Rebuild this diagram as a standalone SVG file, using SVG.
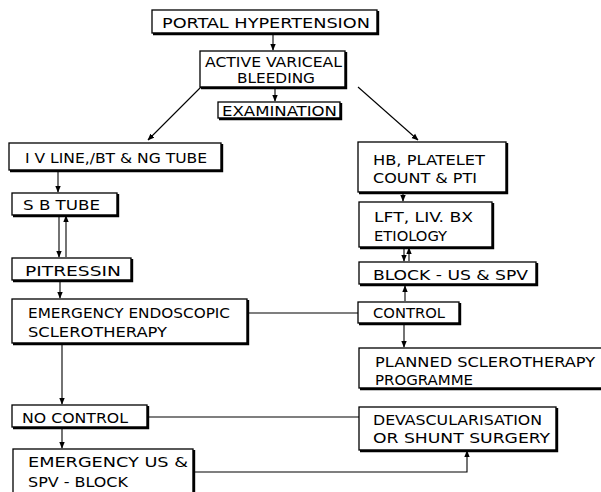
<svg xmlns="http://www.w3.org/2000/svg" width="601" height="492" viewBox="0 0 601 492">
<defs>
<marker id="ah" viewBox="0 0 10 10" refX="9" refY="5" markerWidth="7" markerHeight="7" orient="auto-start-reverse" markerUnits="userSpaceOnUse">
<path d="M0,1 L10,5 L0,9 Z" fill="#000"/>
</marker>
<style>
.b{fill:#fff;stroke:#000;stroke-width:1.3}
.s{fill:none;stroke:#000;stroke-width:2.4}
.t{font-family:"DejaVu Sans Condensed","Liberation Sans Narrow","Liberation Sans",sans-serif;font-size:14.5px;fill:#000}
.c{fill:none;stroke:#000;stroke-width:1.1}
</style>
</defs>
<rect width="601" height="492" fill="#fff"/>
<g id="connectors">
<line class="c" x1="273" y1="33" x2="273" y2="50" marker-end="url(#ah)"/>
<line class="c" x1="275" y1="87" x2="275" y2="101" marker-end="url(#ah)"/>
<line class="c" x1="201" y1="87" x2="148" y2="140" marker-end="url(#ah)"/>
<line class="c" x1="358" y1="87" x2="418" y2="140" marker-end="url(#ah)"/>
<line class="c" x1="58" y1="170" x2="58" y2="192" marker-end="url(#ah)"/>
<line class="c" x1="59" y1="216" x2="59" y2="257" marker-end="url(#ah)"/>
<line class="c" x1="66" y1="257" x2="66" y2="216" marker-end="url(#ah)"/>
<line class="c" x1="60" y1="281" x2="60" y2="298" marker-end="url(#ah)"/>
<line class="c" x1="403" y1="192" x2="403" y2="201" marker-end="url(#ah)"/>
<line class="c" x1="404" y1="247" x2="404" y2="261" marker-end="url(#ah)"/>
<line class="c" x1="409" y1="261" x2="409" y2="248" marker-end="url(#ah)"/>
<line class="c" x1="405" y1="301" x2="405" y2="286" marker-end="url(#ah)"/>
<line class="c" x1="404" y1="324" x2="404" y2="347" marker-end="url(#ah)"/>
<line class="c" x1="248" y1="313" x2="358" y2="313"/>
<line class="c" x1="62" y1="344" x2="62" y2="404" marker-end="url(#ah)"/>
<line class="c" x1="148" y1="417" x2="359" y2="417"/>
<line class="c" x1="62" y1="428" x2="62" y2="448" marker-end="url(#ah)"/>
<polyline class="c" points="194,472 467,472 467,451" marker-end="url(#ah)"/>
</g>
<g id="portal-hypertension">
<rect class="b" x="152" y="10" width="225" height="23"/>
<polyline class="s" points="378,11 378,34 153,34"/>
<text class="t" x="162" y="28" textLength="208" lengthAdjust="spacingAndGlyphs">PORTAL HYPERTENSION</text>
</g>
<g id="active-variceal-bleeding">
<rect class="b" x="200" y="51" width="145" height="36"/>
<polyline class="s" points="346,52 346,88 201,88"/>
<text class="t" x="205" y="67" textLength="137" lengthAdjust="spacingAndGlyphs">ACTIVE VARICEAL</text>
<text class="t" x="237" y="83" textLength="78" lengthAdjust="spacingAndGlyphs">BLEEDING</text>
</g>
<g id="examination">
<rect class="b" x="218" y="102" width="122" height="16"/>
<polyline class="s" points="341,103 341,119 219,119"/>
<text class="t" x="222" y="116" textLength="115" lengthAdjust="spacingAndGlyphs">EXAMINATION</text>
</g>
<g id="iv-line">
<rect class="b" x="9" y="143" width="212" height="27"/>
<polyline class="s" points="222,144 222,171 10,171"/>
<text class="t" x="25" y="163" textLength="182" lengthAdjust="spacingAndGlyphs">I V  LINE,/BT &amp; NG TUBE</text>
</g>
<g id="sb-tube">
<rect class="b" x="12" y="193" width="105" height="22"/>
<polyline class="s" points="118,194 118,216 13,216"/>
<text class="t" x="23" y="210" textLength="77" lengthAdjust="spacingAndGlyphs">S B  TUBE</text>
</g>
<g id="pitressin">
<rect class="b" x="12" y="258" width="119" height="22"/>
<polyline class="s" points="132,259 132,281 13,281"/>
<text class="t" x="25" y="276" textLength="96" lengthAdjust="spacingAndGlyphs">PITRESSIN</text>
</g>
<g id="emergency-sclerotherapy">
<rect class="b" x="12" y="299" width="235" height="44"/>
<polyline class="s" points="248,300 248,344 13,344"/>
<text class="t" x="28" y="318" textLength="202" lengthAdjust="spacingAndGlyphs">EMERGENCY ENDOSCOPIC</text>
<text class="t" x="28" y="337" textLength="139" lengthAdjust="spacingAndGlyphs">SCLEROTHERAPY</text>
</g>
<g id="no-control">
<rect class="b" x="12" y="405" width="135" height="22"/>
<polyline class="s" points="148,406 148,428 13,428"/>
<text class="t" x="22" y="423" textLength="106" lengthAdjust="spacingAndGlyphs">NO  CONTROL</text>
</g>
<g id="emergency-us-spv">
<rect class="b" x="13" y="449" width="180" height="50"/>
<polyline class="s" points="194,450 194,499"/>
<text class="t" x="28" y="467" textLength="160" lengthAdjust="spacingAndGlyphs">EMERGENCY  US &amp;</text>
<text class="t" x="28" y="487" textLength="100" lengthAdjust="spacingAndGlyphs">SPV - BLOCK</text>
</g>
<g id="hb-platelet">
<rect class="b" x="358" y="142" width="148" height="50"/>
<polyline class="s" points="507,143 507,193 359,193"/>
<text class="t" x="373" y="165" textLength="112" lengthAdjust="spacingAndGlyphs">HB, PLATELET</text>
<text class="t" x="373" y="183" textLength="104" lengthAdjust="spacingAndGlyphs">COUNT &amp; PTI</text>
</g>
<g id="lft-liv-bx">
<rect class="b" x="359" y="202" width="133" height="45"/>
<polyline class="s" points="493,203 493,248 360,248"/>
<text class="t" x="374" y="222" textLength="99" lengthAdjust="spacingAndGlyphs">LFT,  LIV. BX</text>
<text class="t" x="374" y="241" textLength="73" lengthAdjust="spacingAndGlyphs">ETIOLOGY</text>
</g>
<g id="block-us-spv">
<rect class="b" x="359" y="262" width="177" height="22"/>
<polyline class="s" points="537,263 537,285 360,285"/>
<text class="t" x="373" y="280" textLength="155" lengthAdjust="spacingAndGlyphs">BLOCK - US &amp; SPV</text>
</g>
<g id="control">
<rect class="b" x="358" y="302" width="101" height="21"/>
<polyline class="s" points="460,303 460,324 359,324"/>
<text class="t" x="373" y="318" textLength="72" lengthAdjust="spacingAndGlyphs">CONTROL</text>
</g>
<g id="planned-sclerotherapy">
<rect class="b" x="359" y="348" width="250" height="40"/>
<polyline class="s" points="360,389 609,389"/>
<text class="t" x="375" y="367" textLength="220" lengthAdjust="spacingAndGlyphs">PLANNED  SCLEROTHERAPY</text>
<text class="t" x="375" y="385" textLength="98" lengthAdjust="spacingAndGlyphs">PROGRAMME</text>
</g>
<g id="devascularisation">
<rect class="b" x="359" y="407" width="197" height="43"/>
<polyline class="s" points="557,408 557,451 360,451"/>
<text class="t" x="373" y="425" textLength="169" lengthAdjust="spacingAndGlyphs">DEVASCULARISATION</text>
<text class="t" x="373" y="443" textLength="177" lengthAdjust="spacingAndGlyphs">OR SHUNT  SURGERY</text>
</g>
</svg>
